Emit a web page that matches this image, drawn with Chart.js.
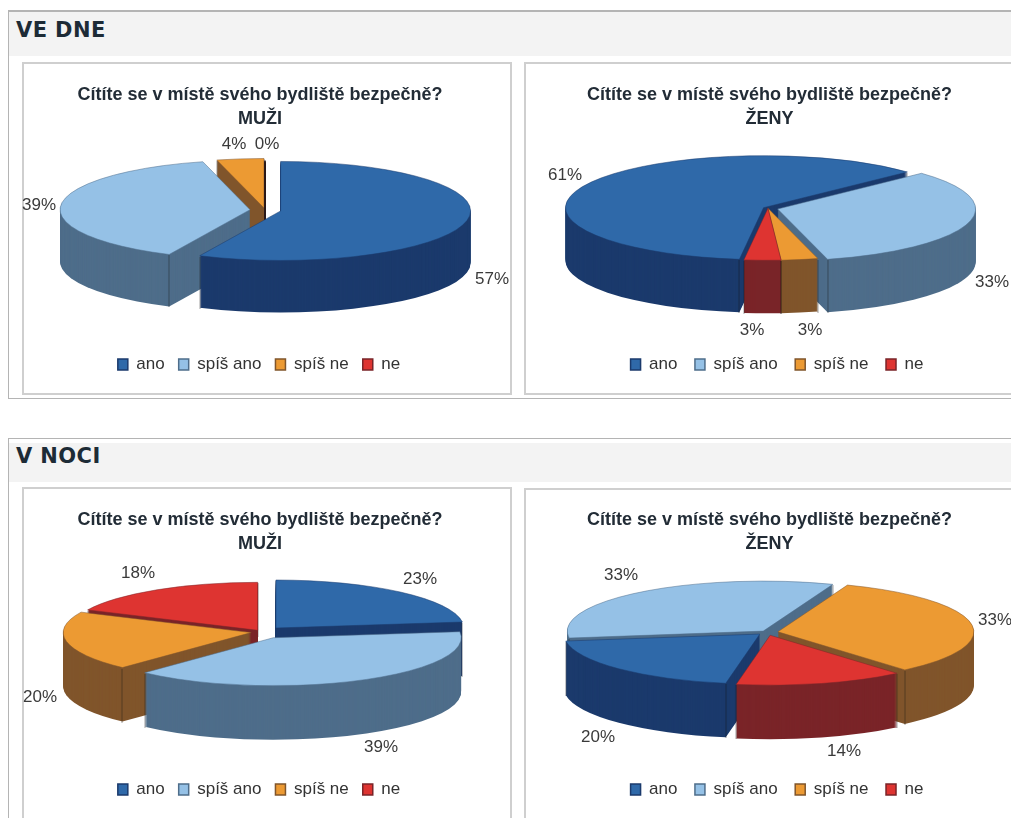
<!DOCTYPE html>
<html lang="cs">
<head>
<meta charset="utf-8">
<title>Cítíte se v místě svého bydliště bezpečně?</title>
<script src="https://cdn.jsdelivr.net/npm/chart.js@4"></script>
<style>
html,body{margin:0;padding:0;background:#fff;width:1011px;height:818px;overflow:hidden}
#page{position:relative;width:1011px;height:818px;overflow:hidden;filter:blur(.55px)}
.sec{position:absolute;left:8px;width:1100px;border:1px solid #b4b4b4;box-sizing:border-box}
.head{position:absolute;left:9px;width:1100px;background:#f3f3f3;font:bold 21px "DejaVu Sans",sans-serif;letter-spacing:.4px;color:#1d2b36;box-sizing:border-box;padding-left:7px}
.panel{position:absolute;border:2px solid #cfcfcf;box-sizing:border-box;background:#fff}
canvas{position:absolute}
</style>
</head>
<body>
<div id="page">
  <div class="sec" style="top:10px;height:389px;border-top-width:2px"></div>
  <div class="head" style="top:12px;height:44px;line-height:37px">VE DNE</div>
  <div class="panel" style="left:22px;top:62px;width:490px;height:333px"></div>
  <div class="panel" style="left:524px;top:62px;width:600px;height:333px"></div>
  <div class="sec" style="top:438px;height:500px;border-bottom:none"></div>
  <div class="head" style="top:443px;height:39px;line-height:27px">V NOCI</div>
  <div class="panel" style="left:22px;top:487px;width:490px;height:400px"></div>
  <div class="panel" style="left:524px;top:488px;width:600px;height:400px"></div>
  <canvas id="c1" width="510" height="328" style="left:5px;top:64px"></canvas>
  <canvas id="c2" width="487" height="328" style="left:526px;top:64px"></canvas>
  <canvas id="c3" width="510" height="328" style="left:5px;top:489px"></canvas>
  <canvas id="c4" width="487" height="328" style="left:526px;top:489px"></canvas>
</div>
<script>
const categories = ['ano', 'spíš ano', 'spíš ne', 'ne'];
const dayMen = [57, 39, 4, 0];
const dayWomen = [61, 33, 3, 3];
const nightMen = [23, 39, 20, 18];
const nightWomen = [20, 33, 33, 14];
const question = 'Cítíte se v místě svého bydliště bezpečně?';
const topColors = ['#2f69a9', '#95c1e6', '#ec9a33', '#de3431'];
const sideColors = ['#1b3a6c', '#4e6d8a', '#80552b', '#7a2428'];

const FONT = '"Liberation Sans", Arial, sans-serif';

const pie3d = {
  id: 'pie3d',
  beforeDatasetDraw() { return false; },
  beforeDatasetsDraw(chart, args, o) {
    const ctx = chart.ctx;
    const arcs = chart.getDatasetMeta(0).data;
    const k = o.ry / o.rx;
    const place = (a, i) => {
      const mid = (a.startAngle + a.endAngle) / 2;
      return {
        cx: a.x + o.shift[0] + Math.cos(mid) * o.explode[i],
        cy: a.y + o.shift[1] + Math.sin(mid) * o.explode[i] * k
      };
    };
    const trace = (a, p, d) => {
      ctx.beginPath();
      ctx.moveTo(p.cx, p.cy + d);
      ctx.ellipse(p.cx, p.cy + d, a.outerRadius, a.outerRadius * k, 0, a.startAngle, a.endAngle);
      ctx.closePath();
    };
    ctx.save();
    for (let d = o.depth; d >= 0; d--) {
      arcs.forEach((a, i) => {
        const p = place(a, i);
        const zero = a.endAngle - a.startAngle < 1e-6;
        trace(a, p, d);
        if (zero) {
          ctx.strokeStyle = '#2a1a1a';
          ctx.lineWidth = 1.6;
          ctx.stroke();
          return;
        }
        ctx.fillStyle = d === 0 ? topColors[i] : sideColors[i];
        ctx.fill();
        if (d === 0) {
          ctx.strokeStyle = sideColors[i];
          ctx.lineWidth = 0.5;
          ctx.stroke();
        } else {
          // vertical seams of the slice wall
          ctx.fillStyle = 'rgba(20,20,20,.4)';
          [a.startAngle, a.endAngle].forEach(t => {
            ctx.fillRect(Math.round(p.cx + Math.cos(t) * a.outerRadius) - 0.5,
                         Math.round(p.cy + d + Math.sin(t) * a.outerRadius * k), 1, 1);
          });
        }
      });
    }
    ctx.restore();
  },
  afterDatasetsDraw(chart, args, o) {
    const ctx = chart.ctx;
    const a0 = chart.getDatasetMeta(0).data[0];
    const values = chart.data.datasets[0].data;
    ctx.save();
    ctx.font = '17px ' + FONT;
    ctx.fillStyle = '#3a3a3a';
    ctx.textAlign = 'center';
    ctx.textBaseline = 'middle';
    values.forEach((v, i) => {
      ctx.fillText(v + '%', a0.x + o.shift[0] + o.labels[i][0], a0.y + o.shift[1] + o.labels[i][1]);
    });
    ctx.restore();
  },
  afterLayout(chart, args, o) {
    chart.legend.left += o.legendShift;
    chart.legend.right += o.legendShift;
  }
};

function makeChart(id, who, values, view) {
  new Chart(document.getElementById(id), {
    type: 'pie',
    data: {
      labels: categories,
      datasets: [{
        data: values,
        backgroundColor: topColors,
        borderColor: sideColors,
        borderWidth: 1.5,
        radius: view.rx
      }]
    },
    options: {
      responsive: false,
      animation: false,
      rotation: view.rotation,
      layout: { padding: { bottom: 9 } },
      plugins: {
        tooltip: { enabled: false },
        title: {
          display: true,
          text: [question, who],
          color: '#222c36',
          font: { family: FONT, size: 18, weight: 'bold', lineHeight: 1.28 },
          padding: { top: 20, bottom: 0 }
        },
        legend: {
          position: 'bottom',
          labels: {
            color: '#333',
            font: { family: FONT, size: 17 },
            boxWidth: 10,
            boxHeight: 11,
            padding: view.legendGap
          }
        },
        pie3d: view
      }
    },
    plugins: [pie3d]
  });
}

makeChart('c1', 'MUŽI', dayMen, {
  rx: 190, ry: 49.5, depth: 52, rotation: 0, shift: [5, -26],
  explode: [16, 15, 8, 0], legendGap: 14, legendShift: -1,
  labels: [[227, 69], [-226, -5], [-31, -66], [2, -66]]
});
makeChart('c2', 'ŽENY', dayWomen, {
  rx: 198, ry: 52, depth: 53, rotation: 187, shift: [-1.5, -26],
  explode: [5, 10, 0, 0], legendGap: 17.5, legendShift: 7.5,
  labels: [[-203, -33], [224, 74], [42, 122], [-16, 122]]
});
makeChart('c3', 'MUŽI', nightMen, {
  rx: 188, ry: 48, depth: 54, rotation: 0, shift: [2, -29],
  explode: [21, 25, 11, 8], legendGap: 14, legendShift: -1,
  labels: [[158, -53], [119, 115], [-222, 65], [-124, -59]]
});
makeChart('c4', 'ŽENY', nightWomen, {
  rx: 196, ry: 50, depth: 54, rotation: 190, shift: [-2.5, -27],
  explode: [10, 6, 11, 12], legendGap: 17.5, legendShift: 7.5,
  labels: [[-169, 105], [-146, -57], [228, -12], [77, 119]]
});
</script>
</body>
</html>
